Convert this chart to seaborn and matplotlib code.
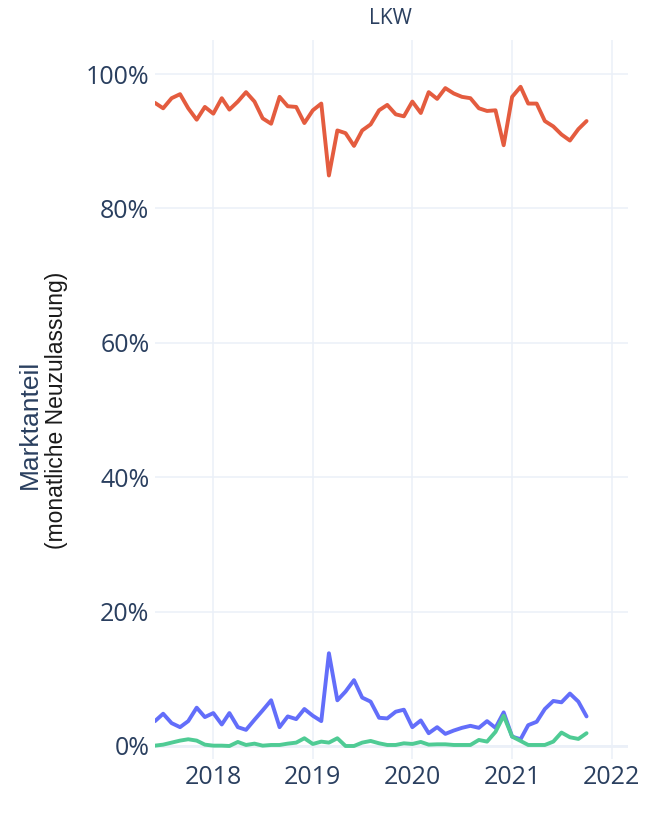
import matplotlib.pyplot as plt
import pandas as pd
import seaborn as sns
from matplotlib.ticker import FuncFormatter

# Monatliche Marktanteile (Neuzulassungen LKW), Werte in Prozent
monate = pd.date_range("2017-06-01", "2021-10-01", freq="MS")

diesel = [95.7, 94.9, 96.4, 97.0, 94.9, 93.2, 95.1, 94.1, 96.4, 94.7,
          95.9, 97.3, 95.9, 93.4, 92.6, 96.6, 95.2, 95.1, 92.7, 94.6,
          95.6, 84.9, 91.6, 91.2, 89.3, 91.6, 92.5, 94.6, 95.4, 94.0,
          93.7, 95.9, 94.2, 97.3, 96.3, 97.9, 97.1, 96.6, 96.4, 94.9,
          94.5, 94.6, 89.4, 96.6, 98.1, 95.6, 95.6, 93.0, 92.2, 91.0,
          90.1, 91.8, 93.0]

benzin = [3.7, 4.8, 3.4, 2.8, 3.7, 5.7, 4.3, 4.9, 3.2, 4.9,
          2.8, 2.4, 3.9, 5.3, 6.8, 2.8, 4.4, 4.0, 5.5, 4.5,
          3.7, 13.8, 6.8, 8.1, 9.8, 7.2, 6.6, 4.2, 4.1, 5.1,
          5.4, 2.8, 3.8, 1.9, 2.8, 1.8, 2.3, 2.7, 3.0, 2.7,
          3.7, 2.7, 5.0, 1.4, 1.0, 3.1, 3.6, 5.5, 6.7, 6.5,
          7.8, 6.6, 4.4]

elektro = [0.05, 0.2, 0.5, 0.8, 1.0, 0.8, 0.2, 0.05, 0.05, 0.0,
           0.6, 0.15, 0.35, 0.05, 0.15, 0.15, 0.35, 0.5, 1.15, 0.3,
           0.65, 0.5, 1.15, 0.0, 0.0, 0.5, 0.75, 0.4, 0.15, 0.15,
           0.4, 0.3, 0.6, 0.2, 0.25, 0.25, 0.15, 0.15, 0.15, 0.9,
           0.65, 2.1, 4.5, 1.4, 0.75, 0.15, 0.15, 0.15, 0.65, 2.0,
           1.3, 1.05, 1.9]

df = pd.DataFrame({"Monat": monate, "Diesel": diesel, "Benzin": benzin, "Elektro": elektro})
df = df.melt(id_vars="Monat", var_name="Antrieb", value_name="Anteil")

farben = {"Diesel": "#E45C3F", "Benzin": "#636EFA", "Elektro": "#4FCB94"}
textfarbe = "#2a3f5f"
gitter = "#EBF0F8"

sns.set_style("white")
plt.rcParams["font.family"] = ["Open Sans", "DejaVu Sans"]

fig = plt.figure(figsize=(6.46, 8.13), dpi=100)
ax = fig.add_axes([0.2399, 0.0659, 0.7318, 0.8844])

sns.lineplot(data=df, x="Monat", y="Anteil", hue="Antrieb", palette=farben,
             linewidth=2.8, legend=False, ax=ax, zorder=3)

ax.set_xlim(pd.Timestamp("2017-06-01"), pd.Timestamp("2022-03-01"))
ax.set_ylim(-2, 105)
ax.set_xticks([pd.Timestamp(f"{j}-01-01") for j in range(2018, 2023)])
ax.set_xticklabels([str(j) for j in range(2018, 2023)])
ax.set_yticks([0, 20, 40, 60, 80, 100])
ax.yaxis.set_major_formatter(FuncFormatter(lambda v, p: f"{v:.0f}%"))

ax.grid(True, color=gitter, linewidth=1.1, zorder=0)
ax.axhline(0, color=gitter, linewidth=2, zorder=1)
for s in ax.spines.values():
    s.set_visible(False)
ax.tick_params(axis="both", length=0, labelsize=18, labelcolor=textfarbe, pad=4)
ax.set_xlabel("")
ax.set_ylabel("")

fig.text(0.605, 1 - 18 / 813, "LKW", ha="center", va="center",
         fontsize=15, color=textfarbe)
fig.text(30 / 646, 1 - 424 / 813, "Marktanteil", rotation=90, ha="center",
         va="center", fontsize=19, color=textfarbe, family="Liberation Sans")
fig.text(57 / 646, 1 - 410 / 813, "(monatliche Neuzulassung)", rotation=90,
         ha="center", va="center", fontsize=16.5, color="#1a1a1a",
         family="Liberation Sans")

fig.savefig("out.png", dpi=100)
